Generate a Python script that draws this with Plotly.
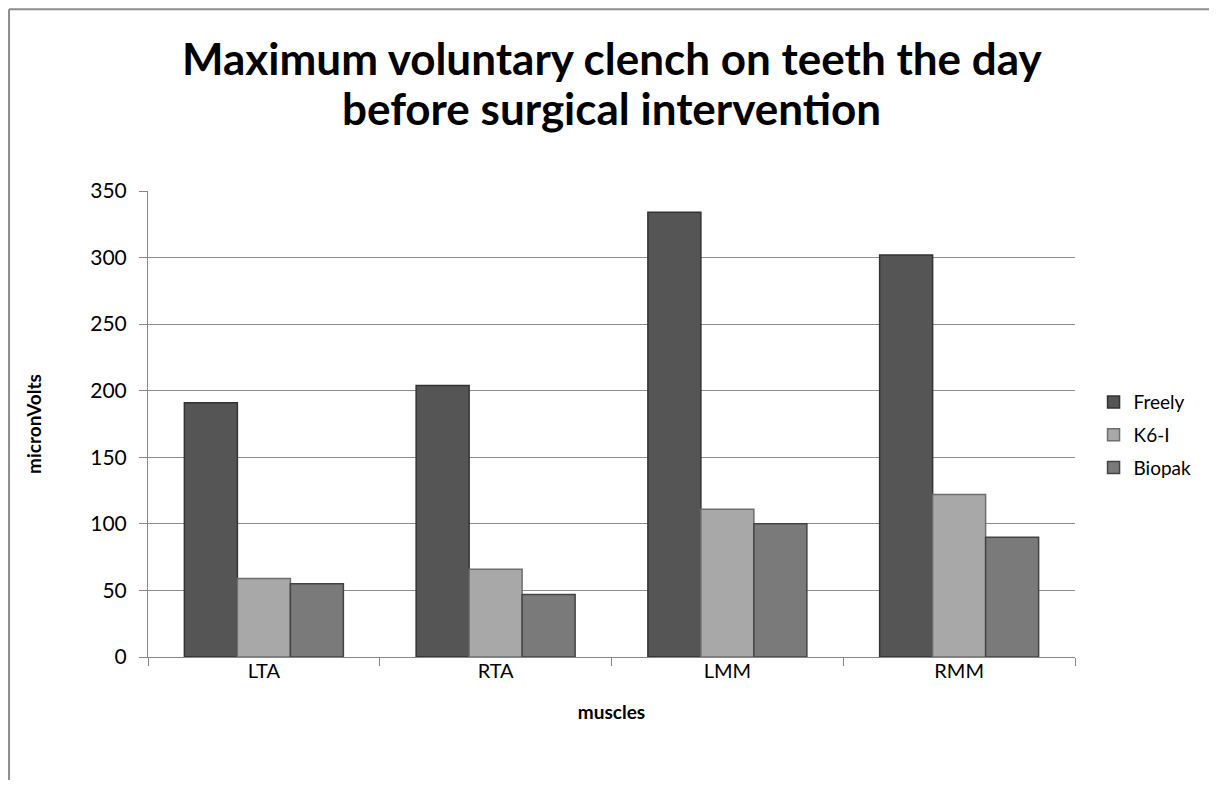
import plotly.graph_objects as go

muscles = ['LTA', 'RTA', 'LMM', 'RMM']
freely = [191, 204, 334, 302]
k6i = [59, 66, 111, 122]
biopak = [55, 47, 100, 90]

font = 'Lato, Open Sans, sans-serif'

fig = go.Figure()
fig.add_trace(go.Bar(x=muscles, y=freely, name='Freely', legendgroup='a',
                     marker=dict(color='#555555', line=dict(color='#333333', width=1.5))))
fig.add_trace(go.Bar(x=muscles, y=k6i, name='K6-I', legendgroup='b',
                     marker=dict(color='#a8a8a8', line=dict(color='#6e6e6e', width=1.5))))
fig.add_trace(go.Bar(x=muscles, y=biopak, name='Biopak', legendgroup='c',
                     marker=dict(color='#7a7a7a', line=dict(color='#444444', width=1.5))))

# page body has an 8px margin on every side, so the figure is made 16px smaller
fig.update_layout(
    width=1201, height=772,
    barmode='group', bargap=0.314, bargroupgap=0,
    paper_bgcolor='white', plot_bgcolor='white',
    margin=dict(l=140, r=134, t=183, b=123),
    font=dict(family=font, color='#000000', size=20),
    legend=dict(x=1.02, y=0.476, xanchor='left', yanchor='middle',
                font=dict(size=19), itemwidth=30, tracegroupgap=5),
    showlegend=True,
)

fig.add_annotation(text='<b>Maximum voluntary clench on teeth the day</b>', xref='paper', yref='paper',
                   x=0.5, y=1.285, xanchor='center', yanchor='middle', showarrow=False,
                   font=dict(size=44, family=font, color='#000000'))
fig.add_annotation(text='<b>before surgical intervention</b>', xref='paper', yref='paper',
                   x=0.5, y=1.178, xanchor='center', yanchor='middle', showarrow=False,
                   font=dict(size=44, family=font, color='#000000'))

fig.update_xaxes(
    title=dict(text='<b>muscles</b>', font=dict(size=19), standoff=24),
    showline=True, linecolor='#888888', linewidth=1,
    ticks='outside', tickson='boundaries', ticklen=8, tickcolor='#888888',
    tickfont=dict(size=20), showgrid=False, ticklabelstandoff=-4,
)
fig.update_yaxes(
    title=dict(text='<b>micronVolts</b>', font=dict(size=19), standoff=43),
    range=[0, 350], dtick=50,
    showline=True, linecolor='#888888', linewidth=1,
    ticks='outside', ticklen=8, tickcolor='#888888',
    showgrid=True, gridcolor='#8c8c8c', gridwidth=1,
    tickfont=dict(size=21), zeroline=False, ticklabelstandoff=8,
)

# outer chart frame (only top and left edges fall inside the picture)
fig.add_shape(type='line', xref='paper', yref='paper',
              x0=-0.1499, x1=1.2, y0=1.39, y1=1.39,
              line=dict(color='#8c8c8c', width=2), layer='below')
fig.add_shape(type='line', xref='paper', yref='paper',
              x0=-0.1499, x1=-0.1499, y0=-0.3, y1=1.39,
              line=dict(color='#8c8c8c', width=2), layer='below')

fig.write_html('out.html')
